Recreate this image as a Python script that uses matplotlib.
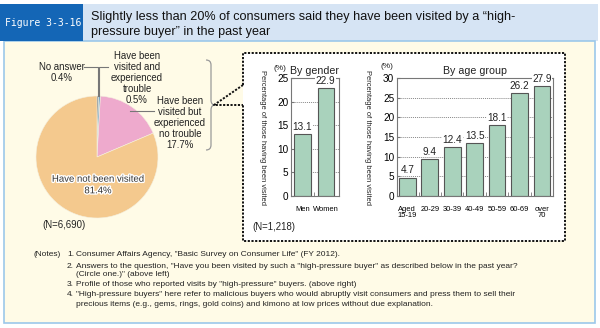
import matplotlib
matplotlib.use('Agg')
import matplotlib.pyplot as plt
from matplotlib import font_manager
import matplotlib.transforms as mtransforms
from matplotlib.patches import Rectangle, PathPatch
from matplotlib.lines import Line2D
from matplotlib.path import Path
import matplotlib.patheffects as pe
import numpy as np

# ---------------- data ----------------
pie_labels = ["No answer", "Have been visited and experienced trouble",
              "Have been visited but experienced no trouble", "Have not been visited"]
pie_values = [0.4, 0.5, 17.7, 81.4]
pie_colors = ['#5d6d7b', '#78a8c6', '#eeaacd', '#f4c98e']

gender_categories = ["Men", "Women"]
gender_values = [13.1, 22.9]
gender_ticks = [0, 5, 10, 15, 20, 25]

age_categories = ["Aged\n15-19", "20-29", "30-39", "40-49", "50-59", "60-69", "over\n70"]
age_values = [4.7, 9.4, 12.4, 13.5, 18.1, 26.2, 27.9]
age_ticks = [0, 5, 10, 15, 20, 25, 30]

fig_label = "Figure 3-3-16"
title_lines = ["Slightly less than 20% of consumers said they have been visited by a \u201chigh-",
               "pressure buyer\u201d in the past year"]
notes_lines = [
    ("(Notes)", "1.", "Consumer Affairs Agency, \"Basic Survey on Consumer Life\" (FY 2012)."),
    ("", "2.", "Answers to the question, \"Have you been visited by such a \"high-pressure buyer\" as described below in the past year?"),
    ("", "", "(Circle one.)\" (above left)"),
    ("", "3.", "Profile of those who reported visits by \"high-pressure\" buyers. (above right)"),
    ("", "4.", "\"High-pressure buyers\" here refer to malicious buyers who would abruptly visit consumers and press them to sell their"),
    ("", "", "precious items (e.g., gems, rings, gold coins) and kimono at low prices without due explanation."),
]

# ---------------- fonts ----------------
REG = 'Liberation Sans'
plt.rcParams['font.family'] = [REG, 'DejaVu Sans']

W, H = 600, 328
fig = plt.figure(figsize=(W / 100, H / 100), dpi=100)
fig.patch.set_facecolor('white')
T = mtransforms.Affine2D().scale(1 / W, -1 / H).translate(0, 1) + fig.transFigure

def rect(x, y, w, h, **kw):
    fig.patches.append(Rectangle((x, y), w, h, transform=T, **kw))

def line(xs, ys, **kw):
    fig.lines.append(Line2D(xs, ys, transform=T, **kw))

def txt(x, y, s, **kw):
    return fig.text(x, y, s, transform=T, **kw)

# backgrounds
rect(0, 4, 598, 37, facecolor='#d6e4f4', edgecolor='none', zorder=-5)
rect(4, 41, 591, 282, facecolor='#fffbe7', edgecolor='#9cc8ea', linewidth=1.2, zorder=-5)
rect(0, 4, 83, 37, facecolor='#1466b6', edgecolor='none', zorder=-4)
txt(43, 23, fig_label, color='white', fontsize=7.0, family='DejaVu Sans Mono',
    ha='center', va='center')
txt(91, 17, title_lines[0], fontsize=9.1, ha='left', va='center', color='#111111')
txt(91, 32, title_lines[1], fontsize=9.1, ha='left', va='center', color='#111111')

# dashed box
rect(243, 53, 322, 188, facecolor='white', edgecolor='none', zorder=-3)
dash = dict(color='#111111', linewidth=1.4, linestyle=(0, (1.1, 0.8)), zorder=2)
line([243, 243, 565, 565, 243, 243], [85, 53, 53, 241, 241, 105], **dash)
line([243, 214, 243], [85, 105, 105], **dash)

# bracket
bp = Path([(206, 60), (211, 60), (211, 65), (211, 100), (211, 105), (215, 105),
           (211, 105), (211, 110), (211, 145), (211, 150), (206, 150)],
          [Path.MOVETO, Path.CURVE3, Path.CURVE3, Path.LINETO, Path.CURVE3, Path.CURVE3,
           Path.CURVE3, Path.CURVE3, Path.LINETO, Path.CURVE3, Path.CURVE3])
fig.patches.append(PathPatch(bp, transform=T, facecolor='none', edgecolor='#9a9a9a', linewidth=0.9))

# ---------------- pie ----------------
cx, cy, r = 97, 157, 61
ax_p = fig.add_axes([(cx - r) / W, 1 - (cy + r) / H, 2 * r / W, 2 * r / H])
wedges, _ = ax_p.pie(pie_values, colors=pie_colors, startangle=90, counterclock=False,
                     wedgeprops=dict(edgecolor='#f4f0e0', linewidth=0.4))
ax_p.set_xlim(-1, 1)
ax_p.set_ylim(-1, 1)
ax_p.set_axis_off()

def wpt(i, rr=1.0):
    m = np.deg2rad((wedges[i].theta1 + wedges[i].theta2) / 2)
    return cx + r * rr * np.cos(m), cy - r * rr * np.sin(m)

lead = dict(color='#777777', linewidth=0.8, zorder=3)
px, py = wpt(0)
line([84, px, px], [67, 67, py], **lead)
px, py = wpt(1)
line([108, px, px], [67, 67, py], **lead)
px, py = wpt(2, 0.93)
line([px, 154], [py, py], **lead)

fs_pie = 6.9
txt(62, 72.5, "No answer\n0.4%", fontsize=fs_pie, ha='center', va='center', linespacing=1.2, color='#222222')
txt(137, 78, "Have been\nvisited and\nexperienced\ntrouble\n0.5%", fontsize=fs_pie, ha='center',
    va='center', linespacing=1.15, color='#222222')
txt(180, 123, "Have been\nvisited but\nexperienced\nno trouble\n17.7%", fontsize=fs_pie, ha='center',
    va='center', linespacing=1.15, color='#222222')
txt(98, 184.5, "Have not been visited\n81.4%", fontsize=fs_pie, ha='center', va='center',
    linespacing=1.2, color='#333333',
    path_effects=[pe.withStroke(linewidth=2, foreground='white')])
txt(42, 225, "(N=6,690)", fontsize=fs_pie, ha='left', va='center', color='#222222')

# ---------------- bars ----------------
bar_color = '#a9d2bc'
def bar_axes(left, right, cats, vals, ticks, width, xlim, ylab_x):
    ax = fig.add_axes([left / W, 1 - 196 / H, (right - left) / W, 118 / H])
    ax.set_facecolor('none')
    x = np.arange(len(cats))
    ax.bar(x, vals, width=width, color=bar_color, edgecolor='#555555', linewidth=0.8, zorder=2)
    ax.set_xlim(*xlim)
    ax.set_ylim(ticks[0], ticks[-1])
    ax.set_yticks(ticks)
    ax.set_yticklabels([str(t) for t in ticks], fontsize=7.2)
    ax.set_xticks(x)
    ax.set_xticklabels(cats, fontsize=5.4, linespacing=0.95)
    ax.set_xticks(x[:-1] + 0.5, minor=True)
    ax.tick_params(axis='x', which='major', length=0, pad=7)
    ax.tick_params(axis='x', which='minor', length=3, direction='in', color='#777777')
    ax.tick_params(axis='y', length=2.5, direction='in', pad=2, color='#777777')
    for t in ticks[1:-1]:
        ax.axhline(t, color='#888888', linestyle=(0, (1, 1)), linewidth=0.7, zorder=1)
    for s in ax.spines.values():
        s.set_color('#777777')
        s.set_linewidth(0.8)
    for xi, v in zip(x, vals):
        ax.annotate(f"{v}", (xi, v), xytext=(0, 5.2), textcoords='offset points', ha='center',
                    va='center', fontsize=7.2, color='#222222', zorder=4,
                    bbox=dict(facecolor='white', edgecolor='none', pad=0.4))
    ax.set_ylabel("Percentage of those having been visited", rotation=-90, fontsize=5.4,
                  ha='center', va='center', color='#222222')
    ax.yaxis.set_label_coords((ylab_x - left) / (right - left), 0.5)
    return ax

ax_g = bar_axes(291, 339, gender_categories, gender_values, gender_ticks, 0.7, (-0.5, 1.58), 262)
ax_a = bar_axes(397, 553, age_categories, age_values, age_ticks, 0.74, (-0.46, 6.49), 367)

txt(280, 68, "(%)", fontsize=6, ha='center', va='center', color='#222222')
txt(387, 67, "(%)", fontsize=6, ha='center', va='center', color='#222222')
txt(314, 71, "By gender", fontsize=7.7, ha='center', va='center', color='#222222')
txt(475, 71, "By age group", fontsize=7.7, ha='center', va='center', color='#222222')
txt(252, 227, "(N=1,218)", fontsize=fs_pie, ha='left', va='center', color='#222222')

# ---------------- notes ----------------
note_y = [255, 266, 274, 284, 295, 304]
for (a, b, c), y in zip(notes_lines, note_y):
    if a:
        txt(33, y, a, fontsize=6.0, ha='left', va='center', color='#222222')
    if b:
        txt(67, y, b, fontsize=6.0, ha='left', va='center', color='#222222')
    txt(76, y, c, fontsize=6.0, ha='left', va='center', color='#222222')

fig.savefig('out.png', dpi=100, facecolor=fig.get_facecolor())
